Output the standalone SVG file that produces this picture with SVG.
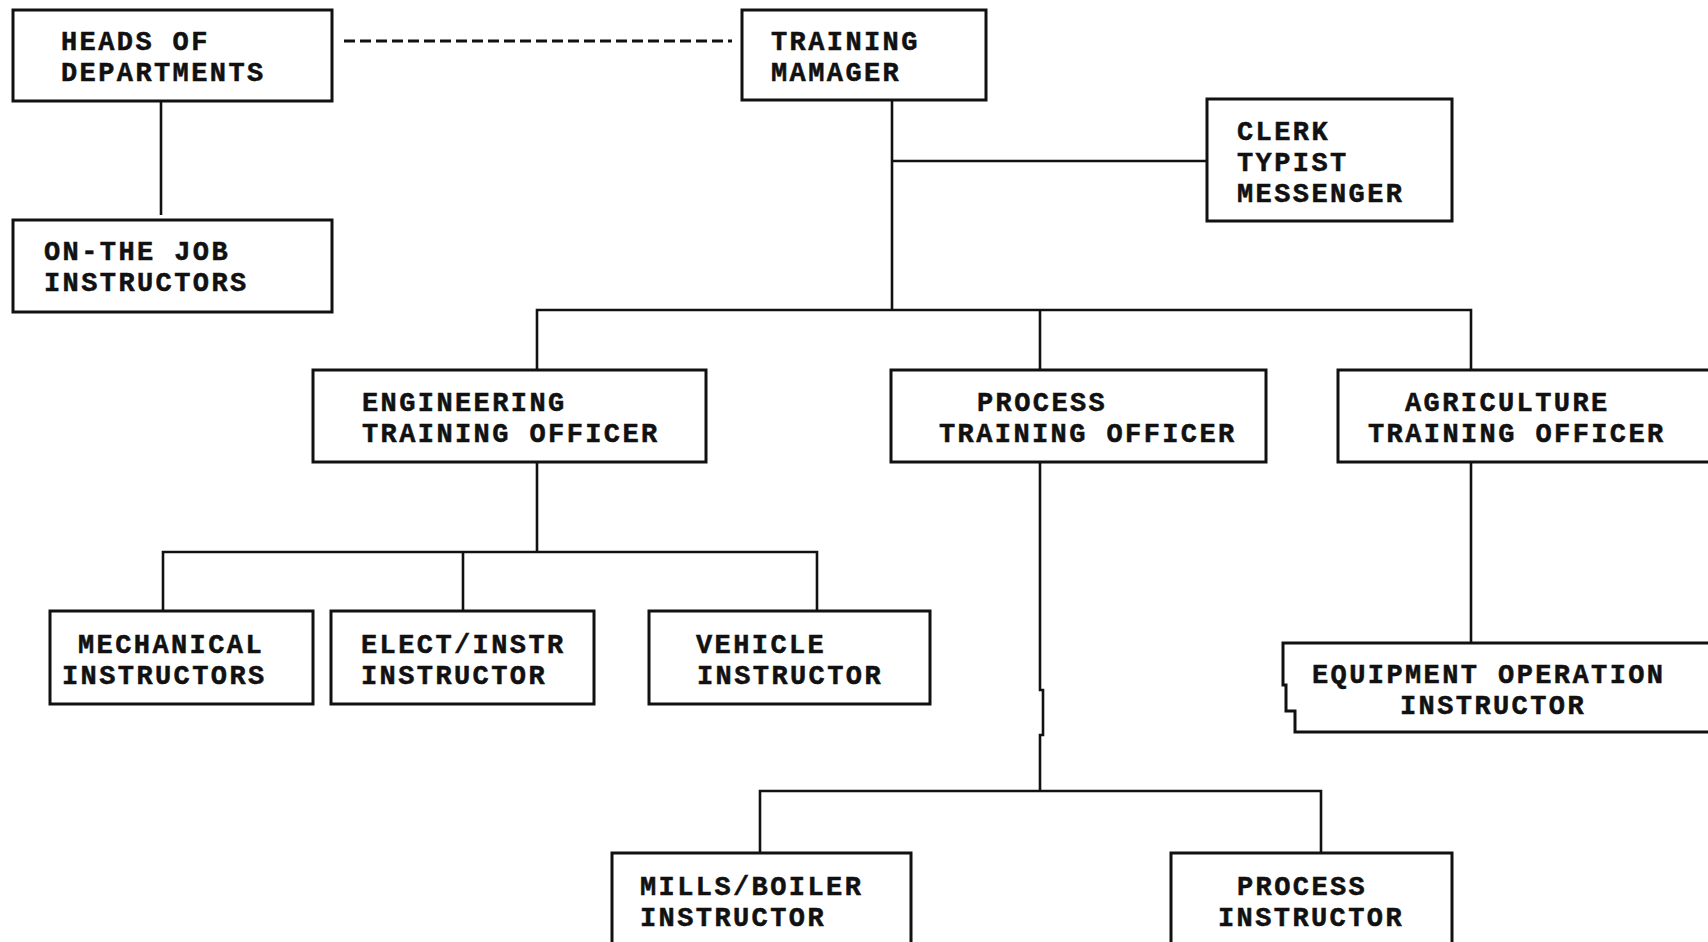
<svg xmlns="http://www.w3.org/2000/svg" width="1708" height="942" viewBox="0 0 1708 942">
<style>
.box{fill:#fff;stroke:#111;stroke-width:3}
.ln{fill:none;stroke:#111;stroke-width:2.6}
.dash{fill:none;stroke:#111;stroke-width:3;stroke-dasharray:11 5}
text{font-family:"Liberation Mono","Courier New",monospace;font-weight:bold;font-size:27px;letter-spacing:2.4px;fill:#111;stroke:#111;stroke-width:0.5}
</style>
<rect width="1708" height="942" fill="#fff"/>
<g id="connectors">
<path class="dash" d="M344 41H732"/>
<path class="ln" d="M161 101V215"/>
<path class="ln" d="M892 100V310M892 161H1207"/>
<path class="ln" d="M537 370V310H1471V370M1040 310V370"/>
<path class="ln" d="M537 462V552M163 611V552H817V611M463 552V611"/>
<path class="ln" d="M1040 462V690H1043V735H1040V791M760 853V791H1321V853"/>
<path class="ln" d="M1471 462V643"/>
</g>
<g id="heads"><rect class="box" x="13" y="10" width="319" height="91"/><text x="61" y="50">HEADS OF</text><text x="61" y="81">DEPARTMENTS</text></g>
<g id="manager"><rect class="box" x="742" y="10" width="244" height="90"/><text x="771" y="50">TRAINING</text><text x="771" y="81">MAMAGER</text></g>
<g id="clerk"><rect class="box" x="1207" y="99" width="245" height="122"/><text x="1237" y="140">CLERK</text><text x="1237" y="171">TYPIST</text><text x="1237" y="202">MESSENGER</text></g>
<g id="ojt"><rect class="box" x="13" y="220" width="319" height="92"/><text x="44" y="260">ON-THE JOB</text><text x="44" y="291">INSTRUCTORS</text></g>
<g id="eng"><rect class="box" x="313" y="370" width="393" height="92"/><text x="362" y="411">ENGINEERING</text><text x="362" y="442">TRAINING OFFICER</text></g>
<g id="proc"><rect class="box" x="891" y="370" width="375" height="92"/><text x="977" y="411">PROCESS</text><text x="939" y="442">TRAINING OFFICER</text></g>
<g id="agri"><rect class="box" x="1338" y="370" width="380" height="92"/><text x="1405" y="411">AGRICULTURE</text><text x="1368" y="442">TRAINING OFFICER</text></g>
<g id="mech"><rect class="box" x="50" y="611" width="263" height="93"/><text x="78" y="653">MECHANICAL</text><text x="62" y="684">INSTRUCTORS</text></g>
<g id="elect"><rect class="box" x="331" y="611" width="263" height="93"/><text x="361" y="653">ELECT/INSTR</text><text x="361" y="684">INSTRUCTOR</text></g>
<g id="vehicle"><rect class="box" x="649" y="611" width="281" height="93"/><text x="696" y="653">VEHICLE</text><text x="697" y="684">INSTRUCTOR</text></g>
<g id="equip"><path class="box" d="M1718 643H1283V685H1286V711H1295V732H1718"/><text x="1312" y="683">EQUIPMENT OPERATION</text><text x="1400" y="714">INSTRUCTOR</text></g>
<g id="mills"><rect class="box" x="612" y="853" width="299" height="100"/><text x="640" y="895">MILLS/BOILER</text><text x="640" y="926">INSTRUCTOR</text></g>
<g id="pinstr"><rect class="box" x="1171" y="853" width="281" height="100"/><text x="1237" y="895">PROCESS</text><text x="1218" y="926">INSTRUCTOR</text></g>
</svg>
